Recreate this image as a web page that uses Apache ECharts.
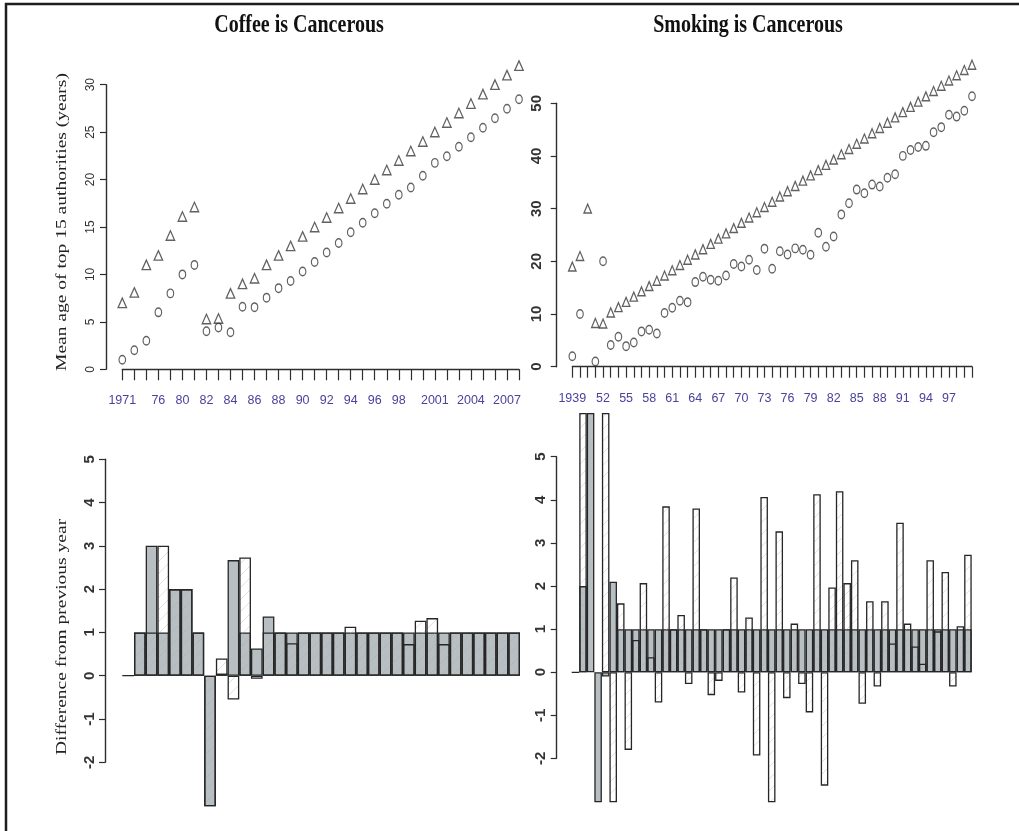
<!DOCTYPE html>
<html><head><meta charset="utf-8">
<script src="https://cdn.jsdelivr.net/npm/echarts@6/dist/echarts.min.js"></script>
<style>html,body{margin:0;padding:0;background:#fff}#c{width:1019px;height:831px}</style>
</head><body><div id="c"></div>
<script>
// ---------- data ----------
const coffeeYears = ['1971','73','74','76','78','80','81','82','83','84','85','86','87','88','89','90','91','92','93','94','95','96','97','98','99','2000','2001','2002','2003','2004','2005','2006','2007','2008'];
const coffeeTri = [7, 8.1, 11, 12, 14.1, 16.1, 17.1, 5.3, 5.35, 8, 9, 9.6, 11, 12, 13, 14, 15, 16, 17, 18, 19, 20, 21, 22, 23, 24, 25, 26, 27, 28, 29, 30, 31, 32];
const coffeeCirc = [1, 2, 3, 6, 8, 10, 11, 4, 4.4, 3.9, 6.6, 6.55, 7.55, 8.55, 9.3, 10.3, 11.3, 12.3, 13.3, 14.45, 15.45, 16.45, 17.45, 18.4, 19.15, 20.4, 21.75, 22.45, 23.45, 24.45, 25.45, 26.45, 27.45, 28.45];
const coffeeTriDiff = [0, 1, 3, 1, 2, 2, 1, -11.8, 0.05, 2.67, 1, 0.63, 1.37, 1, 1, 1, 1, 1, 1, 1, 1, 1, 1, 1, 1, 1, 1, 1, 1, 1, 1, 1, 1, 1];
const coffeeCircDiff = [null, 1, 1, 3, 2, 2, 1, -7, 0.4, -0.55, 2.73, -0.07, 1, 1, 0.75, 1, 1, 1, 1, 1.13, 1, 1, 1, 1, 0.73, 1.27, 1.33, 0.73, 1, 1, 1, 1, 1, 1];
const coffeeLabelIdx = [0, 3, 5, 7, 9, 11, 13, 15, 17, 19, 21, 23, 26, 29, 32];

const smokeYears = ['1939','48','50','51','52','53','54','55','56','57','58','59','60','61','62','63','64','65','66','67','68','69','70','71','72','73','74','75','76','77','78','79','80','81','82','83','84','85','86','87','88','89','90','91','92','93','94','95','96','97','98','99','2000'];
const smokeTri = [19, 21, 30, 8.3, 8.2, 10.3, 11.3, 12.3, 13.3, 14.3, 15.3, 16.3, 17.3, 18.3, 19.3, 20.3, 21.3, 22.3, 23.3, 24.3, 25.3, 26.3, 27.3, 28.3, 29.3, 30.3, 31.3, 32.3, 33.3, 34.3, 35.3, 36.3, 37.3, 38.3, 39.3, 40.3, 41.3, 42.3, 43.3, 44.3, 45.3, 46.3, 47.3, 48.3, 49.3, 50.3, 51.3, 52.3, 53.3, 54.3, 55.3, 56.3, 57.3];
const smokeCirc = [2, 10, null, 1, 20, 4.1, 5.7, 3.9, 4.6, 6.7, 7.0, 6.3, 10.2, 11.2, 12.5, 12.25, 16.05, 17.05, 16.5, 16.3, 17.3, 19.5, 19.0, 20.3, 18.35, 22.4, 18.6, 21.9, 21.3, 22.45, 22.2, 21.25, 25.4, 22.75, 24.7, 28.9, 31.0, 33.6, 32.9, 34.55, 34.2, 35.85, 36.5, 40.0, 41.1, 41.7, 41.9, 44.5, 45.45, 47.8, 47.45, 48.55, 51.3];
const smokeTriDiff = [0, 2, 9, -21.7, -0.1, 2.1, 1, 1, 1, 1, 1, 1, 1, 1, 1, 1, 1, 1, 1, 1, 1, 1, 1, 1, 1, 1, 1, 1, 1, 1, 1, 1, 1, 1, 1, 1, 1, 1, 1, 1, 1, 1, 1, 1, 1, 1, 1, 1, 1, 1, 1, 1, 1];
const smokeCircDiff = [null, 8, null, null, 19, -15.9, 1.6, -1.8, 0.75, 2.07, 0.35, -0.7, 3.85, 1.0, 1.33, -0.27, 3.8, 1.0, -0.53, -0.2, 1.0, 2.2, -0.47, 1.27, -1.93, 4.07, -3.8, 3.27, -0.6, 1.13, -0.27, -0.93, 4.13, -2.63, 1.97, 4.2, 2.07, 2.6, -0.73, 1.65, -0.33, 1.65, 0.67, 3.47, 1.13, 0.6, 0.2, 2.6, 0.95, 2.33, -0.33, 1.07, 2.73];
const smokeLabelIdx = [0, 4, 7, 10, 13, 16, 19, 22, 25, 28, 31, 34, 37, 40, 43, 46, 49];

const titles = ['Coffee is Cancerous', 'Smoking is Cancerous'];
const yTitleTop = 'Mean age of top 15 authorities (years)';
const yTitleBottom = 'Difference from previous year';

// ---------- styles ----------
const INK = '#2e2e2e';
const LABEL_BLUE = '#4a429c';
const NARROW = "'Liberation Sans Narrow','Arial Narrow','Liberation Sans',sans-serif";

function hatch() {
  const c = document.createElement('canvas');
  c.width = 12; c.height = 12;
  const g = c.getContext('2d');
  g.strokeStyle = 'rgba(170,170,170,0.35)';
  g.lineWidth = 1;
  g.beginPath();
  g.moveTo(0, 12); g.lineTo(12, 0);
  g.moveTo(-1, 1); g.lineTo(1, -1);
  g.moveTo(11, 13); g.lineTo(13, 11);
  g.stroke();
  return c;
}
const hatchPattern = { image: hatch(), repeat: 'repeat' };

function xCat(gridIndex, data, idxList) {
  return {
    type: 'category', gridIndex, data, boundaryGap: false,
    axisLine: { show: true, lineStyle: { color: INK, width: 1.4 } },
    axisTick: { show: true, interval: 0, length: 11, lineStyle: { color: INK, width: 1.2 } },
    axisLabel: {
      interval: (i) => idxList.indexOf(i) >= 0,
      color: LABEL_BLUE, fontFamily: NARROW, fontSize: 12.5, margin: 25
    },
    splitLine: { show: false }
  };
}
function hiddenCat(gridIndex, data) {
  return { type: 'category', gridIndex, data, show: false, boundaryGap: true };
}
function hiddenVal(gridIndex, min, max) {
  return { type: 'value', gridIndex, min, max, show: false, splitLine: { show: false } };
}
function axisVal(gridIndex, min, max, interval, fontSize, margin, bold) {
  return {
    type: 'value', gridIndex, min, max, interval, position: 'left',
    axisLine: { show: true, lineStyle: { color: INK, width: 1.4 } },
    axisTick: { show: true, length: 6, lineStyle: { color: INK, width: 1.2 } },
    axisLabel: { rotate: 90, color: '#333', fontSize, fontWeight: bold ? 'bold' : 'normal',
      fontFamily: "'Liberation Sans',Arial,sans-serif", margin, showMinLabel: true, showMaxLabel: true },
    splitLine: { show: false }
  };
}
function pts(xi, data, symbol, size) {
  return {
    type: 'scatter', xAxisIndex: xi, yAxisIndex: xi, data, symbol, symbolSize: size,
    itemStyle: { color: 'rgba(255,255,255,0)', borderColor: '#3a3a3a', borderWidth: 1.3 },
    silent: true
  };
}
function bars(xi, data, filled) {
  return {
    type: 'bar', xAxisIndex: xi, yAxisIndex: xi, data,
    barGap: '-100%', barCategoryGap: '0%',
    itemStyle: filled
      ? { color: '#b8bfc2', borderColor: '#262626', borderWidth: 1.3 }
      : { color: hatchPattern, borderColor: '#262626', borderWidth: 1.3 },
    silent: true
  };
}

const chart = echarts.init(document.getElementById('c'));
chart.setOption({
  animation: false,
  backgroundColor: '#fff',
  grid: [
    { left: 122.3, top: 65.6, width: 396.7, height: 303.7 },
    { left: 572.3, top: 64.7, width: 399.7, height: 302 },
    { left: 122.3, top: 415.9, width: 397.7, height: 389.7 },
    { left: 571.7, top: 413.7, width: 400, height: 387.9 },
    { left: 106, top: 84.7, width: 10, height: 284.6 },
    { left: 556.7, top: 103.3, width: 10, height: 263.4 },
    { left: 105, top: 459.3, width: 10, height: 303 },
    { left: 556.7, top: 456.7, width: 10, height: 301.6 }
  ],
  xAxis: [
    xCat(0, coffeeYears, coffeeLabelIdx),
    xCat(1, smokeYears, smokeLabelIdx),
    hiddenCat(2, coffeeYears),
    hiddenCat(3, smokeYears),
    hiddenVal(4, 0, 1), hiddenVal(5, 0, 1), hiddenVal(6, 0, 1), hiddenVal(7, 0, 1)
  ],
  yAxis: [
    hiddenVal(0, 0, 32),
    hiddenVal(1, 0, 57.3),
    hiddenVal(2, -3, 6),
    hiddenVal(3, -3, 6),
    axisVal(4, 0, 30, 5, 12, 9, false),
    axisVal(5, 0, 50, 10, 15, 12, true),
    axisVal(6, -2, 5, 1, 15, 8, true),
    axisVal(7, -2, 5, 1, 15, 8, true)
  ],
  series: [
    pts(0, coffeeTri, 'triangle', [8.5, 9.5]),
    pts(0, coffeeCirc, 'circle', [6.5, 8.5]),
    pts(1, smokeTri, 'triangle', [7.5, 9]),
    pts(1, smokeCirc, 'circle', [6.5, 8.5]),
    bars(2, coffeeTriDiff, true),
    bars(2, coffeeCircDiff, false),
    bars(3, smokeTriDiff, true),
    bars(3, smokeCircDiff, false)
  ],
  graphic: [
    { type: 'polyline', shape: { points: [[6, 831], [6, 4], [1019, 4]] },
      style: { stroke: '#1e1e1e', lineWidth: 2.5, fill: null }, silent: true },
    { type: 'text', x: 299, y: 25, scaleY: 1.3,
      style: { text: titles[0], fill: '#111', font: 'bold 20px "Liberation Serif", serif',
        textAlign: 'center', textVerticalAlign: 'middle', align: 'center', verticalAlign: 'middle' } },
    { type: 'text', x: 748, y: 25, scaleY: 1.3,
      style: { text: titles[1], fill: '#111', font: 'bold 20px "Liberation Serif", serif',
        textAlign: 'center', textVerticalAlign: 'middle', align: 'center', verticalAlign: 'middle' } },
    { type: 'text', x: 62, y: 222, rotation: Math.PI / 2, scaleX: 1.3,
      style: { text: yTitleTop, fill: '#222', font: '15px "Liberation Serif", serif',
        textAlign: 'center', textVerticalAlign: 'middle', align: 'center', verticalAlign: 'middle' } },
    { type: 'text', x: 62, y: 637, rotation: Math.PI / 2, scaleX: 1.3,
      style: { text: yTitleBottom, fill: '#222', font: '15px "Liberation Serif", serif',
        textAlign: 'center', textVerticalAlign: 'middle', align: 'center', verticalAlign: 'middle' } }
  ]
});
</script>
</body></html>
